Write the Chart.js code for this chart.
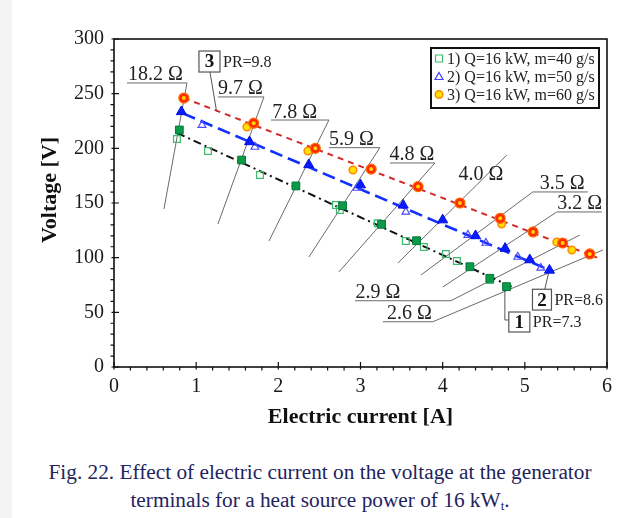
<!DOCTYPE html>
<html>
<head>
<meta charset="utf-8">
<script src="https://cdn.jsdelivr.net/npm/chart.js@4.4.1/dist/chart.umd.min.js"></script>
<style>
  body { margin: 0; background: #f3f3f3; }
  #page { position: absolute; left: 12px; top: 0; width: 612px; height: 518px; background: #fff; }
  #wrap { position: absolute; left: 0; top: 0; width: 624px; height: 440px; }
  #caption {
    position: absolute; left: 16px; top: 458px; width: 608px;
    text-align: center; font-family: "Liberation Serif", serif;
    font-size: 21.3px; line-height: 28px; color: #1f2460;
  }
  #caption sub { font-size: 13px; vertical-align: -3px; line-height: 0; }
</style>
</head>
<body>
<div id="page"></div>
<div id="wrap"><canvas id="chart" width="624" height="440"></canvas></div>
<div id="caption">Fig. 22. Effect of electric current on the voltage at the generator<br>terminals for a heat source power of 16 kW<sub>t</sub>.</div>
<script>
// measured clusters (filled markers), current [A] / voltage [V]
const greenI = [0.795, 1.553, 2.214, 2.782, 3.256, 3.682, 4.331, 4.574, 4.777];
const greenV = [216.8, 189.3, 165.6, 147.5, 130.5, 115.5, 91.7, 81.1, 73.5];
const blueI = [0.82, 1.65, 2.37, 3.0, 3.52, 4.0, 4.4, 4.76, 5.06, 5.3];
const blueV = [233.5, 206, 185, 166.5, 148, 134.5, 120, 108.5, 98, 88.5];
const redI = [0.85, 1.7, 2.45, 3.13, 3.7, 4.21, 4.7, 5.1, 5.46, 5.79];
const redV = [246, 223, 200, 181, 165, 150, 136, 123.5, 113.4, 103.4];

// scattered open markers
const sqI = [0.766, 1.144, 1.776, 2.701, 2.749, 3.21, 3.552, 3.771, 4.039, 4.173, 4.574];
const sqV = [208.5, 197.6, 175.6, 148.2, 143.6, 131.5, 115.2, 109.8, 103.4, 97.0, 79.6];
const triI = [1.071, 1.715, 2.956, 3.552, 4.307, 4.526, 4.915, 5.195];
const triV = [221.3, 201.2, 163.7, 141.8, 120.7, 113.4, 100.6, 90.6];
const circI = [1.618, 2.36, 2.908, 4.717, 5.389, 5.572];
const circV = [219.5, 197.6, 180.2, 130.8, 114.3, 107.0];

// trend lines
const fit1I = [0.77, 4.85];
const fit1V = [214, 73];
const fit2I = [0.84, 5.35];
const fit2V = [232, 87];
const fit3I = [0.85, 5.88];
const fit3V = [246, 100];

const legendLabels = ["1) Q=16 kW, m=40 g/s", "2) Q=16 kW, m=50 g/s", "3) Q=16 kW, m=60 g/s"];
const xTicks = [0, 1, 2, 3, 4, 5, 6];
const yTicks = [0, 50, 100, 150, 200, 250, 300];

// load resistance labels, in data units (A, V)
const resistanceLabels = [
  { text: "18.2 Ω", textX: 0.505, ul: [0.158, 0.888, 259.8], leader: [[0.888, 259.8], [0.608, 144.5]] },
  { text: "9.7 Ω", textX: 1.539, ul: [1.265, 1.825, 247.0], leader: [[1.825, 247.0], [1.265, 130.8]] },
  { text: "7.8 Ω", textX: 2.2, ul: [1.91, 2.616, 225.9], leader: [[2.616, 225.9], [1.886, 115.2]] },
  { text: "5.9 Ω", textX: 2.889, ul: [2.616, 3.236, 200.6], leader: [[3.236, 200.6], [2.372, 100.6]] },
  { text: "4.8 Ω", textX: 3.625, ul: [3.358, 3.905, 186.6], leader: [[3.905, 186.6], [2.737, 86.9]] },
  { text: "4.0 Ω", textX: 4.465, textV: 171.0, leader: [[4.781, 193.9], [3.455, 95.1]] },
  { text: "3.5 Ω", textX: 5.456, ul: [5.097, 5.766, 160.1], leader: [[5.097, 160.1], [3.735, 84.1]] },
  { text: "3.2 Ω", textX: 5.669, ul: [5.389, 5.937, 141.8], leader: [[5.389, 141.8], [4.002, 73.2]] },
  { text: "2.9 Ω", textX: 3.212, ul: [2.932, 4.1, 60.6], leader: [[4.1, 60.6], [5.669, 120.7]] },
  { text: "2.6 Ω", textX: 3.595, ul: [3.273, 3.881, 41.4], leader: [[3.881, 41.4], [5.949, 107.0]] },
];

const boxLabels = [
  { num: "3", pr: "PR=9.8", box: [1.034, 1.29, 289.0, 269.8], leader: [[1.168, 269.8], [1.249, 233.5]] },
  { num: "2", pr: "PR=8.6", box: [5.093, 5.324, 71.1, 52.1], leader: [[5.243, 71.1], [5.292, 86.9]] },
  { num: "1", pr: "PR=7.3", box: [4.805, 5.061, 50.3, 32.0], leader: [[4.805, 43.0], [4.757, 43.0], [4.757, 72.3], [4.793, 74.1]] },
];

const SERIF = '"Liberation Serif", "Times New Roman", serif';

function pts(xs, ys) {
  return xs.map((x, i) => ({ x: x, y: ys[i] }));
}

function drawMarker(ctx, kind, x, y) {
  ctx.beginPath();
  if (kind === 0) {
    ctx.strokeStyle = "#3dbb6c"; ctx.lineWidth = 1.2;
    ctx.rect(x - 3.5, y - 3.5, 7, 7);
    ctx.stroke();
  } else if (kind === 1) {
    ctx.strokeStyle = "#3d3dff"; ctx.lineWidth = 1.2;
    ctx.moveTo(x, y - 4); ctx.lineTo(x + 4, y + 3); ctx.lineTo(x - 4, y + 3); ctx.closePath();
    ctx.stroke();
  } else {
    ctx.fillStyle = "#ffe100"; ctx.strokeStyle = "#ff8a00"; ctx.lineWidth = 1.5;
    ctx.arc(x, y, 3.8, 0, Math.PI * 2);
    ctx.fill(); ctx.stroke();
  }
}

const overlay = {
  id: "overlay",
  beforeDatasetsDraw(chart) {
    const { ctx } = chart;
    const px = (v) => chart.scales.x.getPixelForValue(v);
    const py = (v) => chart.scales.y.getPixelForValue(v);
    ctx.save();
    ctx.strokeStyle = "#6a6a6a";
    ctx.lineWidth = 1;
    ctx.fillStyle = "#222";
    ctx.font = "20px " + SERIF;
    ctx.textAlign = "center";
    ctx.textBaseline = "alphabetic";
    for (const lab of resistanceLabels) {
      ctx.beginPath();
      if (lab.ul) {
        ctx.moveTo(px(lab.ul[0]), py(lab.ul[2]));
        ctx.lineTo(px(lab.ul[1]), py(lab.ul[2]));
      }
      ctx.moveTo(px(lab.leader[0][0]), py(lab.leader[0][1]));
      ctx.lineTo(px(lab.leader[1][0]), py(lab.leader[1][1]));
      ctx.stroke();
      const ty = lab.ul ? py(lab.ul[2]) - 2.5 : py(lab.textV);
      ctx.fillText(lab.text, px(lab.textX), ty);
    }
    // leaders of the numbered boxes
    ctx.strokeStyle = "#555";
    for (const b of boxLabels) {
      ctx.beginPath();
      b.leader.forEach((p, i) => {
        if (i === 0) ctx.moveTo(px(p[0]), py(p[1]));
        else ctx.lineTo(px(p[0]), py(p[1]));
      });
      ctx.stroke();
    }
    ctx.restore();
  },
  afterDraw(chart) {
    const { ctx, chartArea: a } = chart;
    const xs = chart.scales.x, ys = chart.scales.y;
    const px = (v) => xs.getPixelForValue(v);
    const py = (v) => ys.getPixelForValue(v);
    ctx.save();

    // numbered boxes
    for (const b of boxLabels) {
      const x1 = px(b.box[0]), x2 = px(b.box[1]), y1 = py(b.box[2]), y2 = py(b.box[3]);
      ctx.fillStyle = "#fff";
      ctx.fillRect(x1, y1, x2 - x1, y2 - y1);
      ctx.strokeStyle = "#555";
      ctx.lineWidth = 1.2;
      ctx.strokeRect(x1, y1, x2 - x1, y2 - y1);
      ctx.fillStyle = "#111";
      ctx.font = "bold 19px " + SERIF;
      ctx.textAlign = "center";
      ctx.textBaseline = "middle";
      ctx.fillText(b.num, (x1 + x2) / 2, (y1 + y2) / 2 + 1);
      ctx.font = "16px " + SERIF;
      ctx.textAlign = "left";
      ctx.fillStyle = "#222";
      ctx.fillText(b.pr, x2 + 3, (y1 + y2) / 2 + 1);
    }

    // frame
    ctx.strokeStyle = "#111";
    ctx.lineWidth = 1.6;
    ctx.strokeRect(a.left, a.top, a.right - a.left, a.bottom - a.top);

    // ticks: major cross the axis, minor outside
    ctx.lineWidth = 1.2;
    ctx.beginPath();
    for (let v = 0; v <= 300.001; v += 10) {
      const y = py(v);
      const major = Math.round(v) % 50 === 0;
      ctx.moveTo(a.left - (major ? 2.5 : 3.5), y);
      ctx.lineTo(a.left + (major ? 5 : 0), y);
    }
    for (let v = 0; v <= 6.001; v += 0.2) {
      const x = px(v);
      const major = Math.abs(v - Math.round(v)) < 0.01;
      ctx.moveTo(x, a.bottom + (major ? 2.5 : 3.5));
      ctx.lineTo(x, a.bottom - (major ? 5 : 0));
    }
    ctx.stroke();

    // axis titles
    ctx.fillStyle = "#111";
    ctx.font = "bold 22px " + SERIF;
    ctx.textAlign = "center";
    ctx.textBaseline = "middle";
    ctx.fillText("Electric current [A]", (a.left + a.right) / 2, a.bottom + 50);
    ctx.save();
    ctx.translate(50, a.top + 151);
    ctx.rotate(-Math.PI / 2);
    ctx.fillText("Voltage [V]", 0, 0);
    ctx.restore();

    // legend box
    const lx = a.right - 176, ly = a.top + 9, lw = 168, lh = 60;
    ctx.fillStyle = "#fff";
    ctx.fillRect(lx, ly, lw, lh);
    ctx.strokeStyle = "#111";
    ctx.lineWidth = 2;
    ctx.strokeRect(lx, ly, lw, lh);
    ctx.font = "16px " + SERIF;
    ctx.textAlign = "left";
    ctx.textBaseline = "middle";
    legendLabels.forEach((t, i) => {
      const ry = ly + 10.5 + i * 18;
      drawMarker(ctx, i, lx + 8, ry);
      ctx.fillStyle = "#222";
      ctx.fillText(t, lx + 16, ry + 1);
    });
    ctx.restore();
  },
};

const lineBase = { showLine: true, pointRadius: 0, fill: false, tension: 0 };

new Chart(document.getElementById("chart"), {
  type: "scatter",
  data: {
    datasets: [
      { label: "1 filled", data: pts(greenI, greenV), pointStyle: "rect", pointRadius: 5.5, backgroundColor: "#0b9a47", borderColor: "#07763a", borderWidth: 1 },
      { label: "2 filled", data: pts(blueI, blueV), pointStyle: "triangle", pointRadius: 5.8, backgroundColor: "#0a1cff", borderColor: "#0010e0", borderWidth: 1 },
      { label: "3 core", data: pts(redI, redV), pointStyle: "circle", pointRadius: 2, backgroundColor: "#ffd800", borderColor: "#ffd800", borderWidth: 0 },
      { label: "3 filled", data: pts(redI, redV), pointStyle: "circle", pointRadius: 5, backgroundColor: "#ff2a00", borderColor: "#ff6a00", borderWidth: 1.2 },
      { label: legendLabels[0], data: pts(sqI, sqV), pointStyle: "rect", pointRadius: 4.8, backgroundColor: "rgba(0,0,0,0)", borderColor: "#3dbb6c", borderWidth: 1.2 },
      { label: legendLabels[1], data: pts(triI, triV), pointStyle: "triangle", pointRadius: 4.5, backgroundColor: "rgba(0,0,0,0)", borderColor: "#4a4aff", borderWidth: 1.2 },
      { label: legendLabels[2], data: pts(circI, circV), pointStyle: "circle", pointRadius: 3.8, backgroundColor: "#ffe100", borderColor: "#ff8a00", borderWidth: 1.5 },
      { ...lineBase, label: "fit 1", data: pts(fit1I, fit1V), borderColor: "#111", borderWidth: 2, borderDash: [8, 4, 2, 4] },
      { ...lineBase, label: "fit 2", data: pts(fit2I, fit2V), borderColor: "#1030ff", borderWidth: 2.6, borderDash: [13, 6] },
      { ...lineBase, label: "fit 3", data: pts(fit3I, fit3V), borderColor: "#d42a2a", borderWidth: 2, borderDash: [6, 5] },
    ],
  },
  options: {
    responsive: false,
    animation: false,
    layout: { padding: { top: 39, right: 17, left: 0, bottom: 0 } },
    scales: {
      x: {
        type: "linear",
        min: 0,
        max: 6,
        afterBuildTicks: (s) => { s.ticks = xTicks.map((v) => ({ value: v })); },
        afterFit: (s) => { s.height = 73; },
        grid: { display: false, drawTicks: false },
        border: { display: false },
        ticks: { padding: 8, color: "#1a1a1a", font: { family: SERIF, size: 20 } },
      },
      y: {
        type: "linear",
        min: 0,
        max: 300,
        afterBuildTicks: (s) => { s.ticks = yTicks.map((v) => ({ value: v })); },
        afterFit: (s) => { s.width = 114; },
        grid: { display: false, drawTicks: false },
        border: { display: false },
        ticks: { padding: 10, color: "#1a1a1a", font: { family: SERIF, size: 20 } },
      },
    },
    plugins: {
      legend: { display: false },
      tooltip: { enabled: false },
    },
  },
  plugins: [overlay],
});
</script>
</body>
</html>
